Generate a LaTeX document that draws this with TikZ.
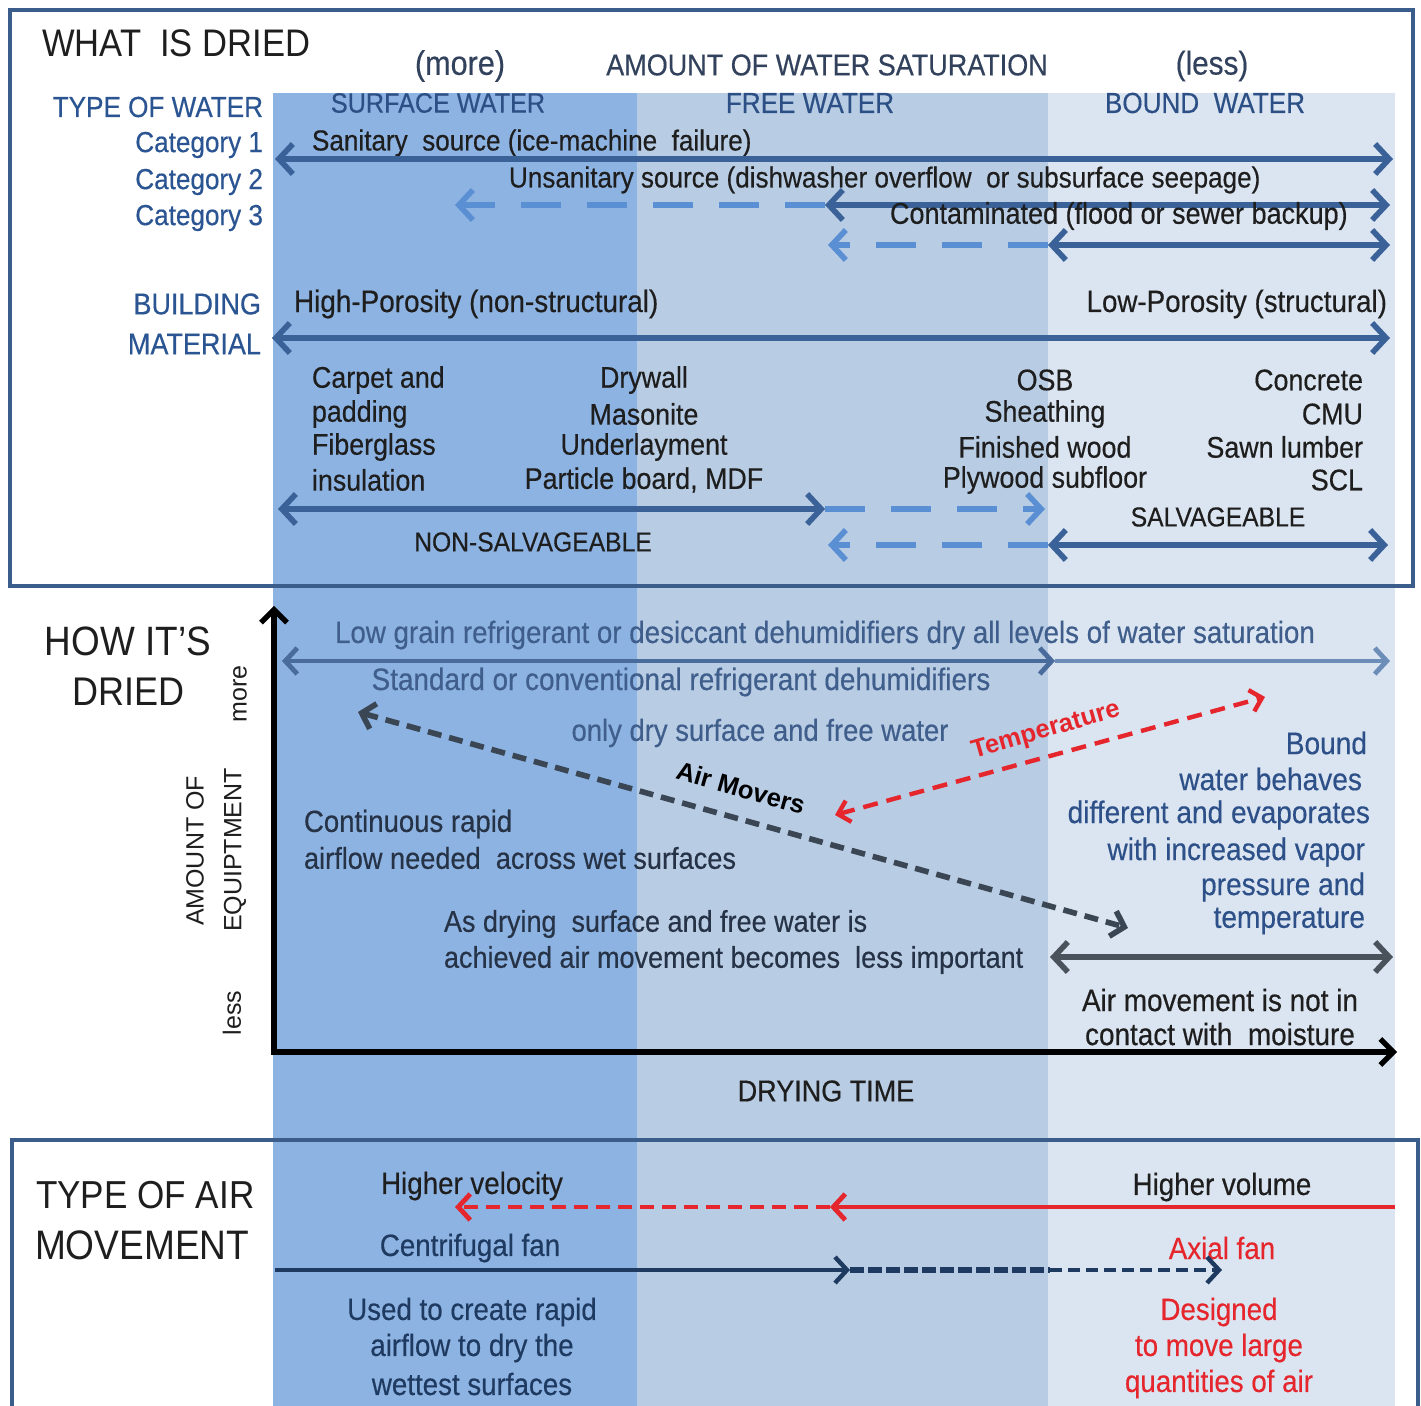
\documentclass[tikz,border=0pt]{standalone}
\usepackage{fontspec}
\setmainfont[FakeStretch=0.9,FakeBold=0.4]{Liberation Sans}
\newfontfamily\plainsans{Liberation Sans}
\newfontfamily\titlesans[FakeStretch=0.9]{Liberation Sans}
\usetikzlibrary{arrows.meta}
\definecolor{bandA}{HTML}{8DB3E2}
\definecolor{bandB}{HTML}{B8CCE4}
\definecolor{bandC}{HTML}{DBE5F1}
\definecolor{frameC}{HTML}{3A5D8C}
\definecolor{arrD}{HTML}{3A6298}
\definecolor{arrL}{HTML}{5B8FD4}
\definecolor{txtB}{HTML}{2B5592}
\definecolor{slate}{HTML}{33425C}
\definecolor{hdrB}{HTML}{2C4F85}
\definecolor{txtK}{HTML}{1E1E1E}
\definecolor{midB}{HTML}{3F5E8C}
\definecolor{midD}{HTML}{4A6C9C}
\definecolor{midL}{HTML}{6D8DB9}
\definecolor{boundB}{HTML}{2D5089}
\definecolor{darkS}{HTML}{263246}
\definecolor{airG}{HTML}{3B4654}
\definecolor{redC}{HTML}{E5262D}
\definecolor{navy}{HTML}{1F3A60}
\definecolor{grayA}{HTML}{4A525B}
\tikzset{
  bighead/.tip={Straight Barb[length=7pt,width=15pt]},
  midhead/.tip={Straight Barb[length=6pt,width=13pt]},
  smallhead/.tip={Straight Barb[length=5.5pt,width=11pt]},
  axhead/.tip={Straight Barb[length=6.5pt,width=13pt]},
}
\begin{document}
\begin{tikzpicture}[x=0.5pt,y=-0.5pt,
  every node/.style={inner sep=0pt,outer sep=0pt},
  main/.style={font=\fontsize{14.5}{17}\selectfont,yshift=-1pt},
  sz/.style={font=\fontsize{#1}{18}\selectfont},
  ttl/.style={font=\titlesans\fontsize{19.5}{22}\selectfont,text=txtK},
  side/.style={font=\plainsans\fontsize{12.5}{15}\selectfont,text=txtK,rotate=90},
  thickarr/.style={line width=2.8pt,line join=miter},
  lightdash/.style={arrL,line width=2.8pt,dash pattern=on 20pt off 13pt},
]
\useasboundingbox (0,0) rectangle (1421,1406);
\fill[white] (0,0) rectangle (1421,1406);
% bands
\fill[bandA] (273,93) rectangle (637,1406);
\fill[bandB] (637,93) rectangle (1048,1406);
\fill[bandC] (1048,93) rectangle (1395,1406);
% frames
\draw[frameC,line width=2pt] (10,10) rectangle (1413,586);
\draw[frameC,line width=2pt] (12,1420) -- (12,1140) -- (1418,1140) -- (1418,1420);

% ---------- WHAT IS DRIED ----------
\node[ttl,font=\titlesans\fontsize{19.2}{22}\selectfont,anchor=west] (what) at (42,43) {WHAT\ \ IS DRIED};
\node[main,sz=17,text=slate] (more) at (460,64) {(more)};
\node[main,sz=15,text=slate] (amount) at (827,63) {AMOUNT\ OF WATER SATURATION};
\node[main,sz=16.5,text=slate] (lessw) at (1212,64) {(less)};
\node[main,text=txtB,anchor=east] (typew) at (263,105) {TYPE OF WATER};
\node[main,sz=14,text=hdrB] (surf) at (438,101) {SURFACE WATER};
\node[main,text=hdrB] (free) at (810,101) {FREE WATER};
\node[main,text=hdrB] (bound) at (1205,101) {BOUND\ \ WATER};
\node[main,text=txtB,anchor=east] (cat1) at (263,143) {Category 1};
\node[main,text=txtB,anchor=east] (cat2) at (263,180) {Category 2};
\node[main,text=txtB,anchor=east] (cat3) at (263,216) {Category 3};
\node[main,text=txtK,anchor=west] (sanit) at (312,141) {Sanitary\ \ source (ice-machine\ \ failure)};
\node[main,text=txtK,anchor=west] (unsan) at (509,178) {Unsanitary source (dishwasher overflow\ \ or subsurface seepage)};

\coordinate (r1L) at (275,159); \coordinate (r1R) at (1393,159);
\draw[arrD,thickarr,bighead-bighead] (r1L) -- (r1R);
\coordinate (r2E) at (455,205); \coordinate (r2M) at (825,205); \coordinate (r2R) at (1390,205);
\draw[lightdash,-bighead] (r2M) -- (r2E);
\draw[arrD,thickarr,bighead-bighead] (r2M) -- (r2R);
\node[main,sz=15,text=txtK,anchor=west] (contam) at (890,214) {Contaminated (flood or sewer backup)};
\coordinate (r3E) at (828,245); \coordinate (r3M) at (1048,245); \coordinate (r3R) at (1390,245);
\draw[lightdash,-bighead] (r3M) -- (r3E);
\draw[arrD,thickarr,bighead-bighead] (r3M) -- (r3R);

\node[main,sz=15,text=txtB,anchor=east] (bld) at (261,302) {BUILDING};
\node[main,sz=15,text=txtB,anchor=east] (mat) at (261,342) {MATERIAL};
\node[main,sz=15.5,text=txtK,anchor=west] (highp) at (294,302) {High-Porosity (non-structural)};
\node[main,sz=15.4,text=txtK,anchor=east] (lowp) at (1387,302) {Low-Porosity (structural)};
\coordinate (r4L) at (272,338); \coordinate (r4R) at (1390,338);
\draw[arrD,thickarr,bighead-bighead] (r4L) -- (r4R);

% material lists
\tikzset{matt/.style={main,sz=14.9,text=txtK}}
\node[matt,anchor=west] (ma1) at (312,378) {Carpet and};
\node[matt,anchor=west] (ma2) at (312,412) {padding};
\node[matt,anchor=west] (ma3) at (312,445) {Fiberglass};
\node[matt,anchor=west] (ma4) at (312,478) {insulation};
\node[matt] (mb1) at (644,378) {Drywall};
\node[matt] (mb2) at (644,412) {Masonite};
\node[matt] (mb3) at (644,445) {Underlayment};
\node[matt] (mb4) at (644,478) {Particle board, MDF};
\node[matt] (mc1) at (1045,378) {OSB};
\node[matt] (mc2) at (1045,412) {Sheathing};
\node[matt] (mc3) at (1045,445) {Finished wood};
\node[matt] (mc4) at (1045,478) {Plywood subfloor};
\node[matt,anchor=east] (md1) at (1363,378) {Concrete};
\node[matt,anchor=east] (md2) at (1363,412) {CMU};
\node[matt,anchor=east] (md3) at (1363,445) {Sawn lumber};
\node[matt,anchor=east] (md4) at (1363,478) {SCL};

\coordinate (r5L) at (278,509); \coordinate (r5M) at (825,509); \coordinate (r5E) at (1045,509);
\draw[arrD,thickarr,bighead-bighead] (r5L) -- (r5M);
\draw[lightdash,-bighead] (r5M) -- (r5E);
\node[main,sz=13.7,text=txtK] (nonsalv) at (533,540) {NON-SALVAGEABLE};
\node[main,sz=13.7,text=txtK] (salv) at (1218,515) {SALVAGEABLE};
\coordinate (r6E) at (828,545); \coordinate (r6M) at (1048,545); \coordinate (r6R) at (1388,545);
\draw[lightdash,-bighead] (r6M) -- (r6E);
\draw[arrD,thickarr,bighead-bighead] (r6M) -- (r6R);

% ---------- HOW IT'S DRIED ----------
\node[ttl,font=\titlesans\fontsize{20.5}{22}\selectfont] (how1) at (128,641) {HOW IT’S};
\node[ttl,font=\titlesans\fontsize{20}{22}\selectfont] (how2) at (129,692) {DRIED};
\coordinate (O) at (274,1052); \coordinate (Ytop) at (274,606); \coordinate (Xend) at (1397,1052);
\draw[black,line width=2.6pt,line join=miter,axhead-axhead] (Ytop) -- (O) -- (Xend);
\node[side] (smore) at (240,694) {more};
\node[side] (samt) at (195,851) {AMOUNT OF};
\node[side] (sequ) at (235,850) {EQUIPTMENT};
\node[side] (sless) at (232,1013) {less};

\node[main,sz=15.4,text=midB] (lowg) at (825,633) {Low grain refrigerant or desiccant dehumidifiers dry all levels of water saturation};
\coordinate (g1L) at (282,661); \coordinate (g1M) at (1055,661); \coordinate (g1R) at (1390,661);
\draw[midL,line width=2.4pt,-midhead] (g1M) -- (g1R);
\draw[midD,line width=2.4pt,midhead-midhead] (g1L) -- (g1M);
\node[main,sz=15.5,text=midB] (std) at (681,680) {Standard or conventional refrigerant dehumidifiers};
\node[main,sz=15.25,text=midB] (only) at (760,731) {only dry surface and free water};

\coordinate (amA) at (358,712); \coordinate (amB) at (1128,928);
\draw[airG,line width=2.8pt,dash pattern=on 7pt off 4pt,midhead-midhead] (amA) -- (amB);
\node[font=\plainsans\bfseries\fontsize{12.8}{15}\selectfont,text=black,rotate=-15.7] (amlab) at (741,788) {Air Movers};
\coordinate (tpA) at (835,815); \coordinate (tpB) at (1265,697);
\draw[redC,line width=2.2pt,dash pattern=on 7.5pt off 4.5pt,smallhead-smallhead] (tpA) -- (tpB);
\node[font=\plainsans\bfseries\fontsize{12.8}{15}\selectfont,text=redC,rotate=16] (tplab) at (1046,731) {Temperature};

\tikzset{bwt/.style={main,sz=15.6,text=boundB,anchor=east}}
\node[bwt] (bw1) at (1367,741) {Bound};
\node[bwt] (bw2) at (1362,777) {water behaves};
\node[bwt] (bw3) at (1370,813) {different and evaporates};
\node[bwt] (bw4) at (1365,850) {with increased vapor};
\node[bwt] (bw5) at (1365,885) {pressure and};
\node[bwt] (bw6) at (1365,919) {temperature};

\node[main,sz=15.3,text=darkS,anchor=west] (cont1) at (304,822) {Continuous rapid};
\node[main,sz=15.1,text=darkS,anchor=west] (cont2) at (304,856) {airflow needed\ \ across wet surfaces};
\node[main,sz=15,text=darkS,anchor=west] (asd1) at (444,922) {As drying\ \ surface and free water is};
\node[main,sz=15,text=darkS,anchor=west] (asd2) at (444,958) {achieved air movement becomes\ \ less important};
\coordinate (gaL) at (1050,957); \coordinate (gaR) at (1393,957);
\draw[grayA,thickarr,bighead-bighead] (gaL) -- (gaR);
\node[main,sz=15.5,text=txtK] (amn1) at (1220,998) {Air movement is not in};
\node[main,sz=15.5,text=txtK] (amn2) at (1220,1032) {contact with\ \ moisture};
\node[main,sz=15,text=txtK] (dtime) at (826,1089) {DRYING TIME};

% ---------- TYPE OF AIR MOVEMENT ----------
\node[ttl,anchor=west] (tam1) at (36,1195) {TYPE OF AIR};
\node[ttl,font=\titlesans\fontsize{20.6}{22}\selectfont,anchor=west] (tam2) at (35,1245) {MOVEMENT};
\tikzset{bot/.style={main,sz=15.4}}
\node[bot,text=txtK] (hvel) at (472,1184) {Higher velocity};
\node[bot,text=txtK] (hvol) at (1222,1185) {Higher volume};
\coordinate (rdR) at (1395,1207); \coordinate (rdM) at (830,1207); \coordinate (rdL) at (455,1207);
\draw[redC,line width=2.4pt,-midhead] (rdR) -- (rdM);
\draw[redC,line width=2.4pt,dash pattern=on 7pt off 4pt,-midhead] (rdM) -- (rdL);
\node[bot,text=navy] (cfan) at (470,1246) {Centrifugal fan};
\node[bot,text=redC] (afan) at (1222,1246) {Axial fan};
\coordinate (nvL) at (275,1270); \coordinate (nvM) at (850,1270); \coordinate (nvB) at (1050,1270); \coordinate (nvR) at (1222,1270);
\draw[navy,line width=2.2pt,-midhead] (nvL) -- (nvM);
\draw[navy,line width=3pt,dash pattern=on 7pt off 2pt] (nvM) -- (nvB);
\draw[navy,line width=2.2pt,dash pattern=on 6pt off 3pt,-midhead] (nvB) -- (nvR);
\node[bot,text=navy] (u1) at (472,1310) {Used to create rapid};
\node[bot,text=navy] (u2) at (472,1346) {airflow to dry the};
\node[bot,text=navy] (u3) at (472,1382) {wettest surfaces};
\node[bot,text=redC] (d1) at (1219,1310) {Designed};
\node[bot,text=redC] (d2) at (1219,1346) {to move large};
\node[bot,text=redC] (d3) at (1219,1382) {quantities of air};
\end{tikzpicture}
\end{document}
